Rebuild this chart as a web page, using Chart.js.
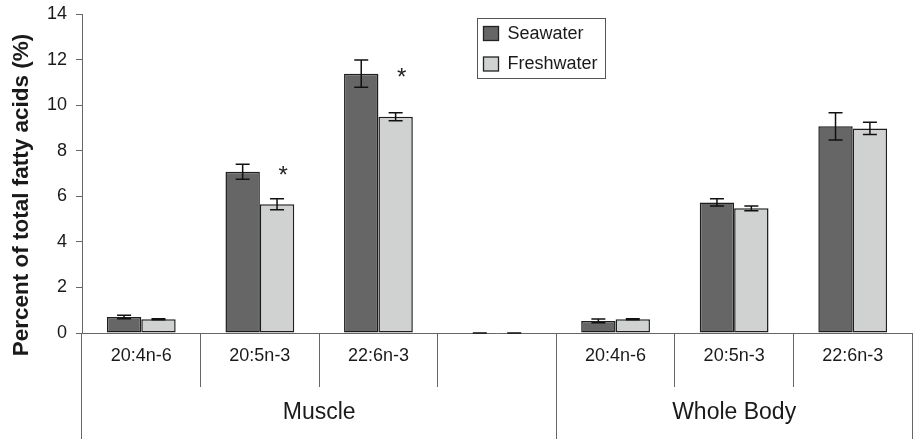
<!DOCTYPE html>
<html>
<head>
<meta charset="utf-8">
<script src="https://cdn.jsdelivr.net/npm/chart.js@4.4.1/dist/chart.umd.min.js"></script>
<style>
  html, body { margin: 0; padding: 0; background: #ffffff; }
  #wrap { width: 913px; height: 439px; }
</style>
</head>
<body>
<div id="wrap"><canvas id="c" width="913" height="439"></canvas></div>
<script>
// ---- data ----
const categories = ['20:4n-6', '20:5n-3', '22:6n-3', '', '20:4n-6', '20:5n-3', '22:6n-3'];
const groups = [
  { label: 'Muscle', first: 0, last: 3 },
  { label: 'Whole Body', first: 4, last: 6 }
];
const seawater      = [0.70, 7.08, 11.38, 0, 0.53, 5.73, 9.07];
const seawaterErr   = [0.08, 0.33, 0.60, 0, 0.08, 0.16, 0.60];
const freshwater    = [0.60, 5.65, 9.49, 0, 0.60, 5.47, 8.98];
const freshwaterErr = [0.02, 0.24, 0.18, 0, 0.02, 0.10, 0.27];
const significance  = ['', '*', '*', '', '', '', ''];
const yTicks = [0, 2, 4, 6, 8, 10, 12, 14];
const yTitle = 'Percent of total fatty acids (%)';

const FONT = '"Liberation Sans", Arial, Helvetica, sans-serif';
const AXIS = '#666666';
const TEXT = '#1a1a1a';

const errorBars = {
  id: 'errorBars',
  afterDatasetsDraw(chart) {
    const ctx = chart.ctx, y = chart.scales.y;
    ctx.save();
    ctx.strokeStyle = '#111';
    ctx.lineWidth = 1.5;
    chart.data.datasets.forEach((ds, i) => {
      const meta = chart.getDatasetMeta(i);
      meta.data.forEach((el, j) => {
        const v = ds.data[j], e = ds.errors[j];
        const top = y.getPixelForValue(v + e), bot = y.getPixelForValue(Math.max(v - e, 0));
        const cap = 7;
        ctx.beginPath();
        ctx.moveTo(el.x, top); ctx.lineTo(el.x, bot);
        ctx.moveTo(el.x - cap, top); ctx.lineTo(el.x + cap, top);
        if (v - e > 0) { ctx.moveTo(el.x - cap, bot); ctx.lineTo(el.x + cap, bot); }
        ctx.stroke();
      });
    });
    // significance stars next to the freshwater bars, at the seawater level
    const metaS = chart.getDatasetMeta(0), metaF = chart.getDatasetMeta(1);
    ctx.fillStyle = '#222';
    ctx.font = '24px ' + FONT;
    ctx.textAlign = 'center';
    ctx.textBaseline = 'alphabetic';
    significance.forEach((s, j) => {
      if (!s) return;
      const yy = metaS.data[j].y;
      ctx.fillText(s, metaF.data[j].x + 6, yy + 11);
    });
    ctx.restore();
  }
};

const groupAxis = {
  id: 'groupAxis',
  afterDraw(chart) {
    const ctx = chart.ctx, x = chart.scales.x;
    const half = (x.getPixelForValue(1) - x.getPixelForValue(0)) / 2;
    const base = chart.chartArea.bottom;
    ctx.save();
    ctx.strokeStyle = AXIS;
    ctx.lineWidth = 1;
    const bottom = chart.height;
    const edges = new Set();
    groups.forEach(g => {
      edges.add(x.getPixelForValue(g.first) - half);
      edges.add(x.getPixelForValue(g.last) + half);
    });
    edges.forEach(px => {
      const xx = Math.round(px + 0.5) - 0.5;
      ctx.beginPath(); ctx.moveTo(xx, base); ctx.lineTo(xx, bottom); ctx.stroke();
    });
    ctx.fillStyle = TEXT;
    ctx.font = '23px ' + FONT;
    ctx.textAlign = 'center';
    ctx.textBaseline = 'middle';
    groups.forEach(g => {
      const cx = (x.getPixelForValue(g.first) - half + x.getPixelForValue(g.last) + half) / 2;
      ctx.fillText(g.label, cx, base + 80);
    });
    // y title
    ctx.save();
    ctx.translate(22, 195);
    ctx.rotate(-Math.PI / 2);
    ctx.font = 'bold 22.5px ' + FONT;
    ctx.fillText(yTitle, 0, 0);
    ctx.restore();
    // legend
    const lx = 477.5, ly = 18.5, lw = 128, lh = 60;
    ctx.fillStyle = '#fff';
    ctx.fillRect(lx, ly, lw, lh);
    ctx.strokeStyle = '#555';
    ctx.strokeRect(lx, ly, lw, lh);
    ctx.font = '18px ' + FONT;
    ctx.textAlign = 'left';
    chart.data.datasets.forEach((ds, i) => {
      const ry = ly + 8 + i * 30.5;
      ctx.fillStyle = ds.backgroundColor;
      ctx.fillRect(lx + 6, ry, 15, 14);
      ctx.strokeStyle = '#222';
      ctx.lineWidth = 1.3;
      ctx.strokeRect(lx + 6, ry, 15, 14);
      ctx.fillStyle = TEXT;
      ctx.fillText(ds.label, lx + 30, ry + 7.5);
    });
    ctx.restore();
  }
};

new Chart(document.getElementById('c'), {
  type: 'bar',
  data: {
    labels: categories,
    datasets: [
      { label: 'Seawater', data: seawater, errors: seawaterErr, backgroundColor: '#666666' },
      { label: 'Freshwater', data: freshwater, errors: freshwaterErr, backgroundColor: '#d0d2d1' }
    ]
  },
  options: {
    responsive: false,
    devicePixelRatio: 1,
    animation: false,
    categoryPercentage: 0.58,
    barPercentage: 1,
    layout: { padding: { top: 0, right: 1, left: 0, bottom: 0 } },
    elements: {
      bar: {
        borderColor: '#1e1e1e',
        borderWidth: c => (c.raw === 0 ? 0 : 1.5),
        borderSkipped: false
      }
    },
    plugins: {
      legend: { display: false },
      tooltip: { enabled: false }
    },
    scales: {
      x: {
        afterFit: s => { s.height = 106; },
        grid: { offset: true, drawOnChartArea: false, tickLength: 54, tickColor: AXIS, tickWidth: 1 },
        border: { color: AXIS, width: 1 },
        ticks: { font: { family: FONT, size: 18 }, color: TEXT, padding: -42, maxRotation: 0, autoSkip: false }
      },
      y: {
        min: 0, max: 14,
        afterFit: s => { s.width = 82; s.paddingTop = 14; },
        afterBuildTicks: s => { s.ticks = yTicks.map(v => ({ value: v })); },
        grid: { drawOnChartArea: false, tickLength: 6, tickColor: AXIS },
        border: { color: AXIS, width: 1 },
        ticks: { font: { family: FONT, size: 18 }, color: TEXT, padding: 9 }
      }
    }
  },
  plugins: [errorBars, groupAxis]
});
</script>
</body>
</html>
